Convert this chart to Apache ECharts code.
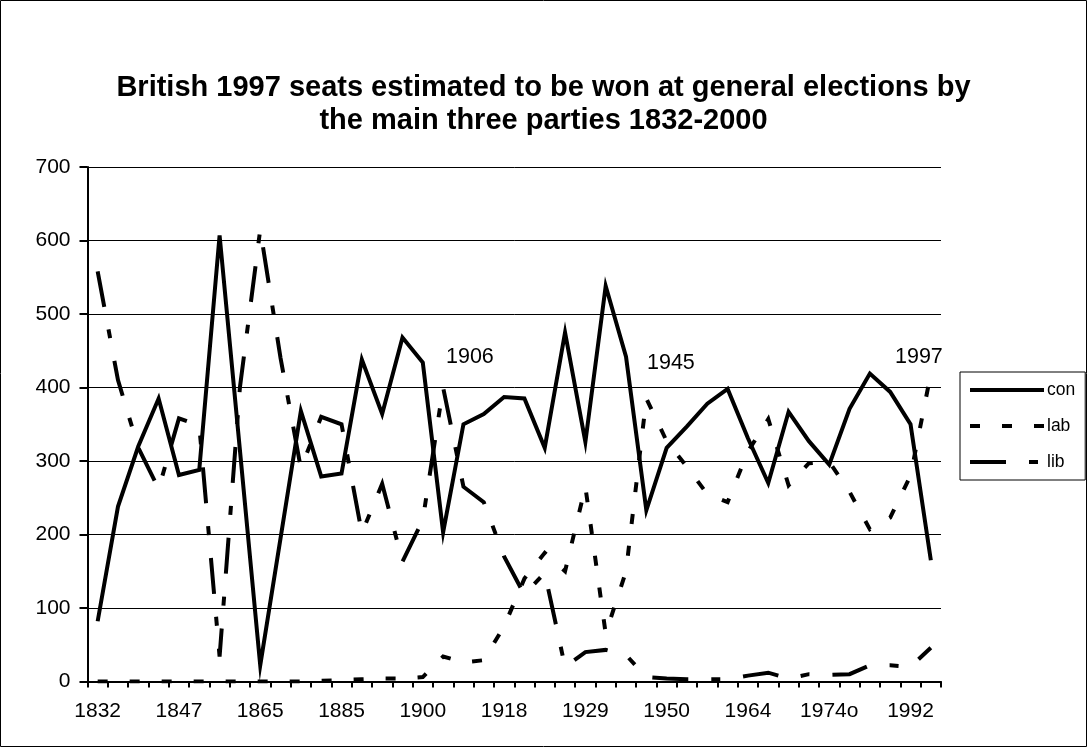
<!DOCTYPE html>
<html>
<head>
<meta charset="utf-8">
<script src="https://cdn.jsdelivr.net/npm/echarts@6/dist/echarts.min.js"></script>
<style>
html,body{margin:0;padding:0;background:#fff;}
#chart{width:1087px;height:747px;}
</style>
</head>
<body>
<div id="chart"></div>
<script>
const years = ['1832','1835','1837','1841','1847','1852','1857','1859','1865','1868','1874','1880','1885','1886','1892','1895','1900','1906','1910j','1910d','1918','1922','1923','1924','1929','1931','1935','1945','1950','1951','1955','1959','1964','1966','1970','1974f','1974o','1979','1983','1987','1992','1997'];
const con = [82,238,320,385,281,288,607,315,22,195,368,279,283,438,364,468,434,203,350,364,387,385,318,475,326,538,442,233,318,347,378,398,331,270,367,327,295,371,419,394,350,165];
const lab = [0,0,0,0,0,0,0,0,0,0,0,1,2,3,4,4,6,34,26,29,75,140,175,150,265,65,150,385,327,292,255,244,313,357,267,297,299,258,207,223,280,419];
const lib = [558,410,318,262,358,348,34,400,615,440,290,360,350,202,269,163,220,400,265,244,170,118,148,20,40,43,36,6,4,3,3,3,8,12,4,10,9,10,22,22,20,46];
const yTicks = [0,100,200,300,400,500,600,700];
const notes = ['1906','1945','1997'];

const FONT = '"Liberation Sans", Arial, sans-serif';
const chart = echarts.init(document.getElementById('chart'), null, {renderer:'canvas'});
const lineBase = {color:'#000', width:4, cap:'butt', join:'miter'};
chart.setOption({
  animation:false,
  backgroundColor:'#fff',
  title:{
    text:'British 1997 seats estimated to be won at general elections by\nthe main three parties 1832-2000',
    left:'center', top:66,
    textStyle:{fontFamily:FONT, fontSize:29, fontWeight:'bold', color:'#000', lineHeight:33}
  },
  legend:{
    orient:'vertical', left:960, top:372,
    itemWidth:74, itemHeight:4, itemGap:16,
    padding:[8,10,8,8],
    borderColor:'#000', borderWidth:1, backgroundColor:'#fff',
    itemStyle:{opacity:0},
    lineStyle:{width:4, type:'inherit', color:'#000', cap:'butt'},
    textStyle:{fontFamily:FONT, fontSize:17.5, color:'#000', lineHeight:20, padding:[0,0,0,-2]},
    data:['con','lab','lib']
  },
  grid:{left:87.5, top:167, right:146, bottom:65.5, containLabel:false},
  xAxis:{
    type:'category', data:years, boundaryGap:true,
    axisLine:{lineStyle:{color:'#000', width:2}},
    axisTick:{show:true, interval:0, length:6, lineStyle:{color:'#000', width:2}},
    axisLabel:{interval:3, color:'#000', fontFamily:FONT, fontSize:21, margin:19},
    splitLine:{show:false}
  },
  yAxis:{
    type:'value', min:yTicks[0], max:yTicks[yTicks.length-1], interval:100,
    axisLine:{show:true, lineStyle:{color:'#000', width:2}},
    axisTick:{show:true, length:8, lineStyle:{color:'#000', width:2}},
    axisLabel:{color:'#000', fontFamily:FONT, fontSize:21, margin:17},
    splitLine:{show:true, lineStyle:{color:'#000', width:1}}
  },
  series:[
    {name:'con', type:'line', data:con, symbol:'none', lineStyle:Object.assign({}, lineBase, {type:'solid'}), itemStyle:{color:'#000'}},
    {name:'lab', type:'line', data:lab, symbol:'none', lineStyle:Object.assign({}, lineBase, {type:[10,22]}), itemStyle:{color:'#000'}},
    {name:'lib', type:'line', data:lib, symbol:'none', lineStyle:Object.assign({}, lineBase, {type:[36,23,9,23]}), itemStyle:{color:'#000'}}
  ],
  graphic:[
    {type:'rect', shape:{x:0.5, y:0.5, width:1086, height:746}, style:{fill:null, stroke:'#000', lineWidth:1}, silent:true, z:100},
    {type:'text', left:446, top:346, style:{text:notes[0], font:'21.5px '+FONT, fill:'#000'}},
    {type:'text', left:647, top:352, style:{text:notes[1], font:'21.5px '+FONT, fill:'#000'}},
    {type:'text', left:895, top:346, style:{text:notes[2], font:'21.5px '+FONT, fill:'#000'}}
  ]
});
</script>
</body>
</html>
